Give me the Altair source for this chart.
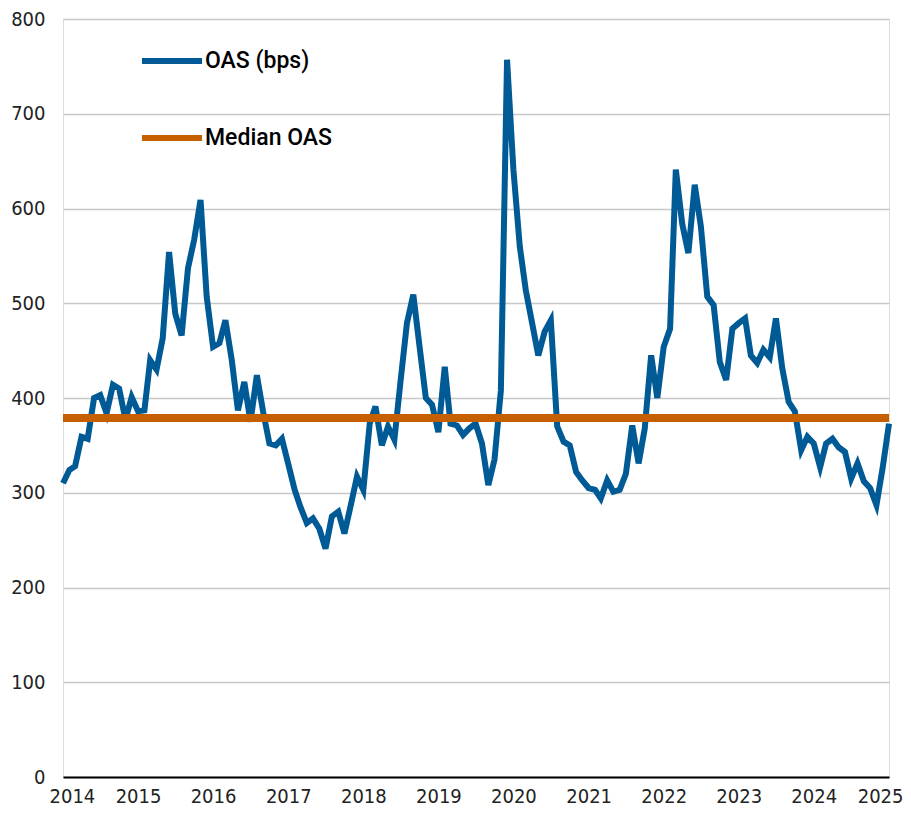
import altair as alt
import pandas as pd

start_month = "2014-01-01"
oas_values = [
    310, 324, 328, 359, 357, 400, 403, 384, 414, 410, 377, 401,
    386, 387, 440, 430, 463, 554, 489, 466, 537, 567, 609, 507,
    454, 458, 482, 440, 387, 417, 375, 424, 385, 352, 350, 357,
    330, 303, 285, 268, 273, 262, 241, 275, 280, 257, 287, 317,
    303, 373, 391, 350, 370, 356, 418, 479, 509, 455, 400, 393,
    364, 433, 373, 371, 361, 368, 373, 352, 308, 335, 408, 757,
    641, 560, 514, 479, 445, 470, 482, 370, 354, 350, 322, 313,
    305, 303, 294, 313, 301, 303, 320, 371, 331, 368, 445, 400,
    454, 473, 641, 584, 553, 625, 581, 507, 498, 438, 419, 473,
    479, 484, 445, 437, 451, 443, 484, 431, 396, 386, 345, 359,
    352, 327, 352, 357, 348, 343, 315, 331, 312, 305, 287, 326,
    373,
]
median_oas = 379
series_names = ["OAS (bps)", "Median OAS"]
series_colors = ["#005A96", "#C55F00"]
year_ticks = list(range(2014, 2026))
y_ticks = [0, 100, 200, 300, 400, 500, 600, 700, 800]

dates = pd.date_range(start_month, periods=len(oas_values), freq="MS")
oas_df = pd.DataFrame({"date": dates, "value": oas_values, "series": series_names[0]})
median_df = pd.DataFrame({
    "date": [pd.Timestamp("2014-01-01"), pd.Timestamp("2025-01-01")],
    "value": [median_oas, median_oas],
    "series": series_names[1],
})

axis_font = "'Liberation Sans Narrow', 'DejaVu Sans Condensed', 'Liberation Sans', sans-serif"

x_scale = alt.Scale(domain=[pd.Timestamp("2014-01-01").isoformat(), pd.Timestamp("2025-01-01").isoformat()])
y_scale = alt.Scale(domain=[0, 800])
tick_values = [pd.Timestamp(f"{y}-01-01").isoformat() for y in year_ticks]

color = alt.Color(
    "series:N",
    scale=alt.Scale(domain=series_names, range=series_colors),
    legend=alt.Legend(
        title=None,
        orient="none",
        legendX=76,
        legendY=9,
        symbolType="stroke",
        symbolSize=3600,
        symbolStrokeWidth=6,
        labelFontSize=23,
        labelFont="Roboto",
        labelFontWeight=500,
        labelColor="#000000",
        labelOffset=0,
        rowPadding=32,
        labelLimit=300,
    ),
)

x_enc = alt.X(
    "date:T",
    scale=x_scale,
    axis=alt.Axis(
        title=None,
        values=tick_values,
        format="%Y",
        grid=False,
        ticks=False,
        domain=True,
        domainColor="#000000",
        domainWidth=2,
        labelFont=axis_font,
        labelFontSize=20,
        labelColor="#222222",
        labelPadding=9,
        labelFlush=True,
        labelFlushOffset=14,
    ),
)
y_enc = alt.Y(
    "value:Q",
    scale=y_scale,
    axis=alt.Axis(
        title=None,
        values=y_ticks,
        grid=True,
        gridColor="#c8c8c8",
        gridWidth=1.5,
        domain=False,
        ticks=False,
        labelFont=axis_font,
        labelFontSize=20,
        labelColor="#222222",
        labelPadding=18,
    ),
)

line = alt.Chart(oas_df).mark_line(strokeWidth=6).encode(x=x_enc, y=y_enc, color=color)
median = alt.Chart(median_df).mark_line(strokeWidth=8).encode(x=x_enc, y=y_enc, color=color)

chart = alt.layer(line, median).properties(
    width=826,
    height=758,
    autosize=alt.AutoSizeParams(type="none"),
    padding={"left": 55, "top": 11, "right": 14, "bottom": 32},
).configure_view(stroke=None).configure(background="#ffffff")

chart.save("out.html", embed_options={"renderer": "svg", "actions": False})
